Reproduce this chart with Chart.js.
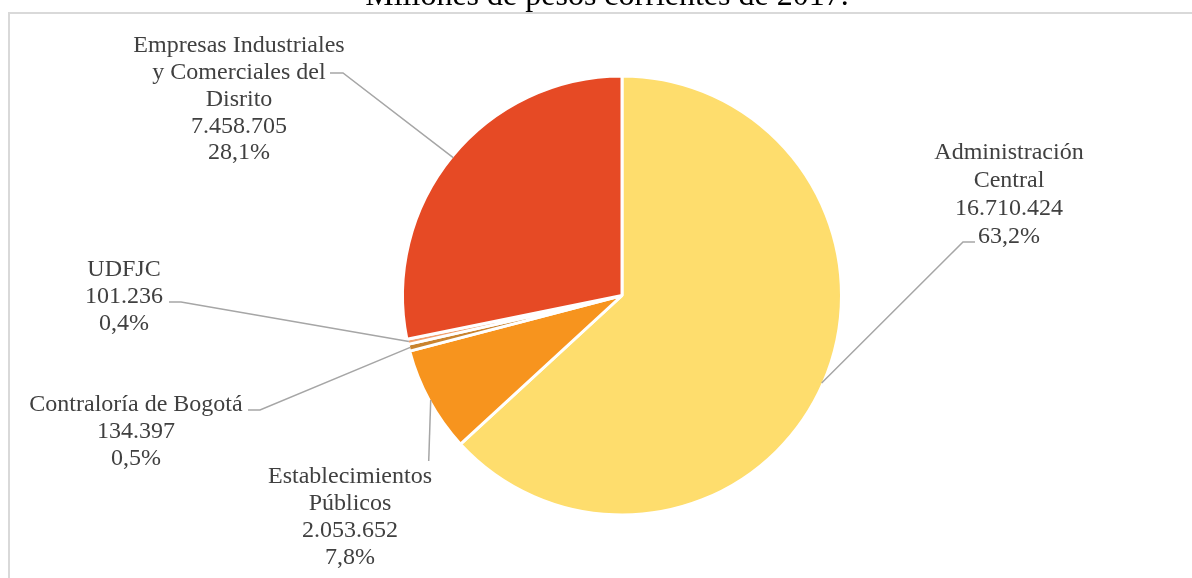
<!DOCTYPE html>
<html>
<head>
<meta charset="utf-8">
<script src="https://cdn.jsdelivr.net/npm/chart.js@4/dist/chart.umd.min.js"></script>
<style>
  html, body { margin: 0; padding: 0; background: #ffffff; }
  #wrap { width: 1192px; height: 578px; position: relative; }
</style>
</head>
<body>
<div id="wrap"><canvas id="c"></canvas></div>
<script>
// ---- Data ----
const titleText = 'Millones de pesos corrientes de 2017.';
const categories = [
  ['Administración', 'Central'],
  ['Establecimientos', 'Públicos'],
  ['Contraloría de Bogotá'],
  ['UDFJC'],
  ['Empresas Industriales', 'y Comerciales del', 'Disrito']
];
const values = [16710424, 2053652, 134397, 101236, 7458705];
const pctLabels = ['63,2%', '7,8%', '0,5%', '0,4%', '28,1%'];
const colors = ['#FEDD6D', '#F7941E', '#C9832E', '#F1A06E', '#E64A25'];

// ---- Label layout (positions of the callout texts) ----
const labelLayout = [
  { cx: 1009, y0: 153, lh: 27.8, leader: [[963, 242], [975, 242]] },
  { cx: 350, y0: 477, lh: 27, vertical: 461 },
  { cx: 136, y0: 405, lh: 27, leader: [[260, 410], [248, 410]] },
  { cx: 124, y0: 270, lh: 27, leader: [[181, 302], [169, 302]] },
  { cx: 239, y0: 46, lh: 26.8, leader: [[343, 73], [330, 73]] }
];

function fmtNum(v) {
  return String(v).replace(/\B(?=(\d{3})+(?!\d))/g, '.');
}

const calloutPlugin = {
  id: 'callouts',
  beforeDraw(chart) {
    const ctx = chart.ctx;
    ctx.save();
    // outer frame
    ctx.strokeStyle = '#D9D9D9';
    ctx.lineWidth = 2;
    ctx.strokeRect(9, 13, 1300, 700);
    // title
    ctx.fillStyle = '#000000';
    ctx.font = '32px "Liberation Serif", "Times New Roman", serif';
    ctx.textAlign = 'center';
    ctx.textBaseline = 'alphabetic';
    ctx.fillText(titleText, 607, 5);
    ctx.restore();
  },
  afterDraw(chart) {
    const ctx = chart.ctx;
    const meta = chart.getDatasetMeta(0);
    ctx.save();
    meta.data.forEach((arc, i) => {
      const p = arc.getProps(['x', 'y', 'startAngle', 'endAngle', 'outerRadius']);
      const mid = (p.startAngle + p.endAngle) / 2;
      const r = p.outerRadius - 1.5;
      const ax = p.x + Math.cos(mid) * r;
      const ay = p.y + Math.sin(mid) * r;
      const L = labelLayout[i];
      ctx.strokeStyle = '#A6A6A6';
      ctx.lineWidth = 1.5;
      ctx.beginPath();
      ctx.moveTo(ax, ay);
      if (L.vertical !== undefined) {
        ctx.lineTo(ax - 2, L.vertical);
      } else {
        ctx.lineTo(L.leader[0][0], L.leader[0][1]);
        ctx.lineTo(L.leader[1][0], L.leader[1][1]);
      }
      ctx.stroke();

      const lines = categories[i].concat([fmtNum(values[i]), pctLabels[i]]);
      ctx.fillStyle = '#404040';
      ctx.font = '24px "Liberation Serif", "Times New Roman", serif';
      ctx.textAlign = 'center';
      ctx.textBaseline = 'middle';
      lines.forEach((t, k) => {
        ctx.fillText(t, L.cx, L.y0 + k * L.lh);
      });
    });
    ctx.restore();
  }
};

new Chart(document.getElementById('c'), {
  type: 'pie',
  data: {
    labels: categories.map(c => c.join(' ')),
    datasets: [{
      data: values,
      backgroundColor: colors,
      borderColor: '#FFFFFF',
      borderWidth: 3
    }]
  },
  options: {
    responsive: true,
    maintainAspectRatio: false,
    animation: false,
    radius: 219.5,
    layout: { padding: { top: 74.5, bottom: 61.5, left: 300, right: 248 } },
    plugins: {
      legend: { display: false },
      title: { display: false },
      tooltip: { enabled: false }
    }
  },
  plugins: [calloutPlugin]
});
</script>
</body>
</html>
